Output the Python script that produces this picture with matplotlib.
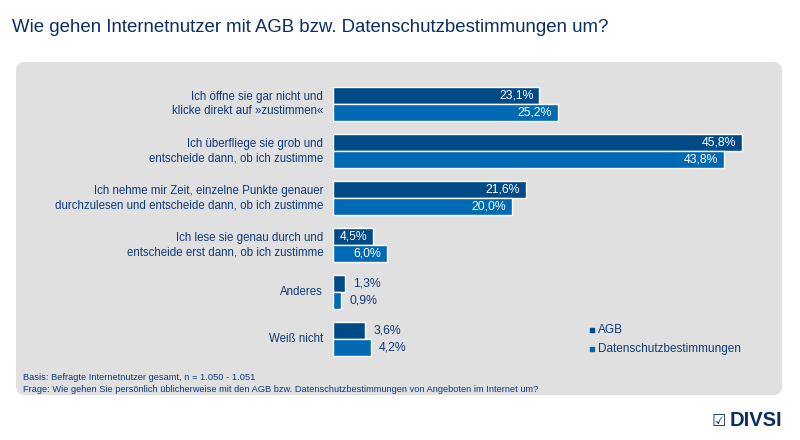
import numpy as np
import matplotlib.pyplot as plt
from matplotlib.patches import FancyBboxPatch

# Daten
kategorien = [
    "Ich öffne sie gar nicht und\nklicke direkt auf »zustimmen«",
    "Ich überfliege sie grob und\nentscheide dann, ob ich zustimme",
    "Ich nehme mir Zeit, einzelne Punkte genauer\ndurchzulesen und entscheide dann, ob ich zustimme",
    "Ich lese sie genau durch und\nentscheide erst dann, ob ich zustimme",
    "Anderes",
    "Weiß nicht",
]
agb = [23.1, 45.8, 21.6, 4.5, 1.3, 3.6]
datenschutz = [25.2, 43.8, 20.0, 6.0, 0.9, 4.2]
serien = ["AGB", "Datenschutzbestimmungen"]

titel = "Wie gehen Internetnutzer mit AGB bzw. Datenschutzbestimmungen um?"
basis = "Basis: Befragte Internetnutzer gesamt, n = 1.050 - 1.051"
frage = "Frage: Wie gehen Sie persönlich üblicherweise mit den AGB bzw. Datenschutzbestimmungen von Angeboten im Internet um?"

# Farben
c_agb = "#004b87"
c_ds = "#0069b3"
c_text = "#0d3a78"
c_titel = "#0a2d62"
c_grau = "#e0e0e0"

plt.rcParams['font.family'] = ['Liberation Sans', 'DejaVu Sans']

W, H = 800, 440
fig = plt.figure(figsize=(W / 100, H / 100), dpi=100)

# Hintergrund-Achse in Pixeln
bg = fig.add_axes([0, 0, 1, 1])
bg.set_xlim(0, W)
bg.set_ylim(H, 0)
bg.axis("off")
bg.add_patch(FancyBboxPatch((16, 62), 766, 333, boxstyle="round,pad=0,rounding_size=9",
                            fc=c_grau, ec="none"))
bg.text(12, 28, titel, fontsize=13.4, color=c_titel, va="center", ha="left")
bg.text(23, 378, basis, fontsize=6.7, color=c_text, va="center")
bg.text(23, 389, frage, fontsize=6.7, color=c_text, va="center")

# Logo
bg.text(726, 421, "☑", family="DejaVu Sans", fontsize=11.5, color=c_titel, va="center", ha="right")
bg.text(730, 421, "DIVSI", fontsize=14.5, fontweight="bold", color=c_titel, va="center", ha="left")

# Balken-Achse
x0 = 333
px_pro_prozent = 8.93
gruppe_abstand = 47
erste_mitte = 104
n = len(kategorien)
oben = erste_mitte - gruppe_abstand / 2
hoehe_px = gruppe_abstand * n
xmax = 50
ax = fig.add_axes([x0 / W, 1 - (oben + hoehe_px) / H,
                   xmax * px_pro_prozent / W, hoehe_px / H])
ax.set_xlim(0, xmax)
ax.set_ylim(n - 0.5, -0.5)
ax.axis("off")

y = np.arange(n)
bh = 0.36
ax.barh(y - bh / 2, agb, height=bh, color=c_agb, edgecolor="white", linewidth=1)
ax.barh(y + bh / 2, datenschutz, height=bh, color=c_ds, edgecolor="white", linewidth=1)

for werte, off in [(agb, -bh / 2), (datenschutz, bh / 2)]:
    for i, v in enumerate(werte):
        txt = f"{v:.1f}%".replace(".", ",")
        if v >= 4.4:
            ax.text(v - 0.65, i + off, txt, color="white", fontsize=8.8,
                    ha="right", va="center")
        else:
            ax.text(v + 0.9, i + off, txt, color=c_text, fontsize=8.8,
                    ha="left", va="center")

for i, k in enumerate(kategorien):
    ax.text(-1.1, i, k, color=c_text, fontsize=8.3, ha="right", va="center",
            linespacing=1.3)

# Legende
for j, (name, col) in enumerate(zip(serien, [c_agb, c_ds])):
    yy = 330 + 19 * j
    bg.scatter([592], [yy], marker="s", s=12, color=col)
    bg.text(598, yy, name, color=c_text, fontsize=8.5, va="center", ha="left")

fig.savefig("out.png", dpi=100)
